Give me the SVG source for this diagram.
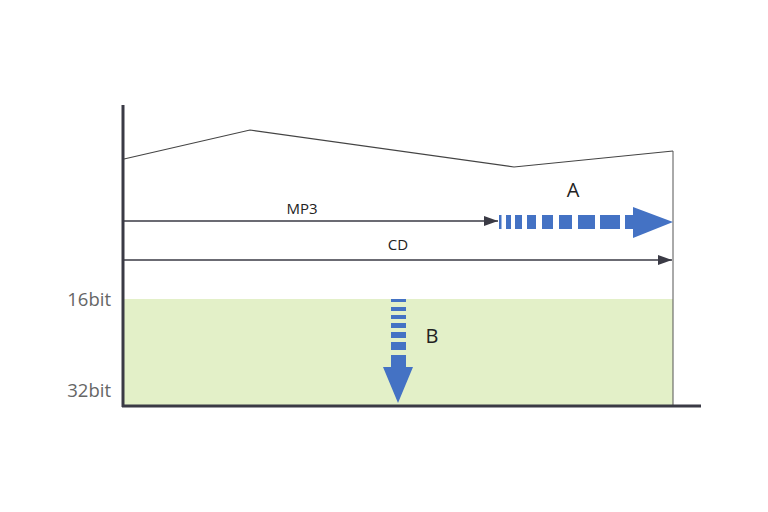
<svg xmlns="http://www.w3.org/2000/svg" width="768" height="512" viewBox="0 0 768 512">
<style>
.lbl{font-family:"Open Sans","Noto Sans",sans-serif;fill:#222}
.ax{font-family:"Open Sans","Noto Sans",sans-serif;fill:#666;font-size:18.5px}
.blue{fill:#4472c4}
.conn{stroke:#3a3a45;stroke-width:1.3;fill:none}
</style>
<defs>
<marker id="ah" markerWidth="14" markerHeight="10" refX="14" refY="5" orient="auto" markerUnits="userSpaceOnUse">
<path d="M0,0 L14,5 L0,10 Z" fill="#3a3a45"/>
</marker>
</defs>
<rect width="768" height="512" fill="#fff"/>
<g id="area">
<rect x="124" y="299" width="549" height="107" fill="#e3f0c8"/>
<line x1="673" y1="151" x2="673" y2="406" stroke="#555" stroke-width="1"/>
<polyline points="124,159 250,130 514,167 673,151" fill="none" stroke="#444" stroke-width="1.2"/>
</g>
<g id="axes">
<line x1="123" y1="105" x2="123" y2="407" stroke="#3a3a45" stroke-width="3"/>
<line x1="122" y1="406" x2="701" y2="406" stroke="#3a3a45" stroke-width="3"/>
<text class="ax" x="111" y="306" text-anchor="end">16bit</text>
<text class="ax" x="111" y="397" text-anchor="end">32bit</text>
</g>
<g id="connectors">
<line class="conn" x1="124" y1="221" x2="498" y2="221" marker-end="url(#ah)"/>
<line class="conn" x1="124" y1="260" x2="672" y2="260" marker-end="url(#ah)"/>
</g>
<g id="mp3"><text class="lbl" x="302" y="214" font-size="15" text-anchor="middle">MP3</text></g>
<g id="cd"><text class="lbl" x="398" y="250" font-size="15" text-anchor="middle">CD</text></g>
<g id="arrowA" class="blue">
<rect x="499" y="215" width="2.5" height="14"/>
<rect x="506" y="215" width="5" height="14"/>
<rect x="515" y="215" width="7" height="14"/>
<rect x="527" y="215" width="9" height="14"/>
<rect x="542" y="215" width="11" height="14"/>
<rect x="559" y="215" width="13" height="14"/>
<rect x="578" y="215" width="17" height="14"/>
<rect x="600" y="215" width="20" height="14"/>
<path d="M625,215 L633,215 L633,207 L673,222 L633,238 L633,229 L625,229 Z"/>
<text class="lbl" x="573" y="197" font-size="20" text-anchor="middle" fill="#111">A</text>
</g>
<g id="arrowB" class="blue">
<rect x="391" y="299" width="15" height="3"/>
<rect x="391" y="307" width="15" height="4"/>
<rect x="391" y="315" width="15" height="4"/>
<rect x="391" y="323" width="15" height="5"/>
<rect x="391" y="332" width="15" height="6"/>
<rect x="391" y="342" width="15" height="8"/>
<path d="M391,355 L406,355 L406,367 L413,367 L398,403 L383,367 L391,367 Z"/>
<text class="lbl" x="432" y="343" font-size="20" text-anchor="middle" fill="#111">B</text>
</g>
</svg>
